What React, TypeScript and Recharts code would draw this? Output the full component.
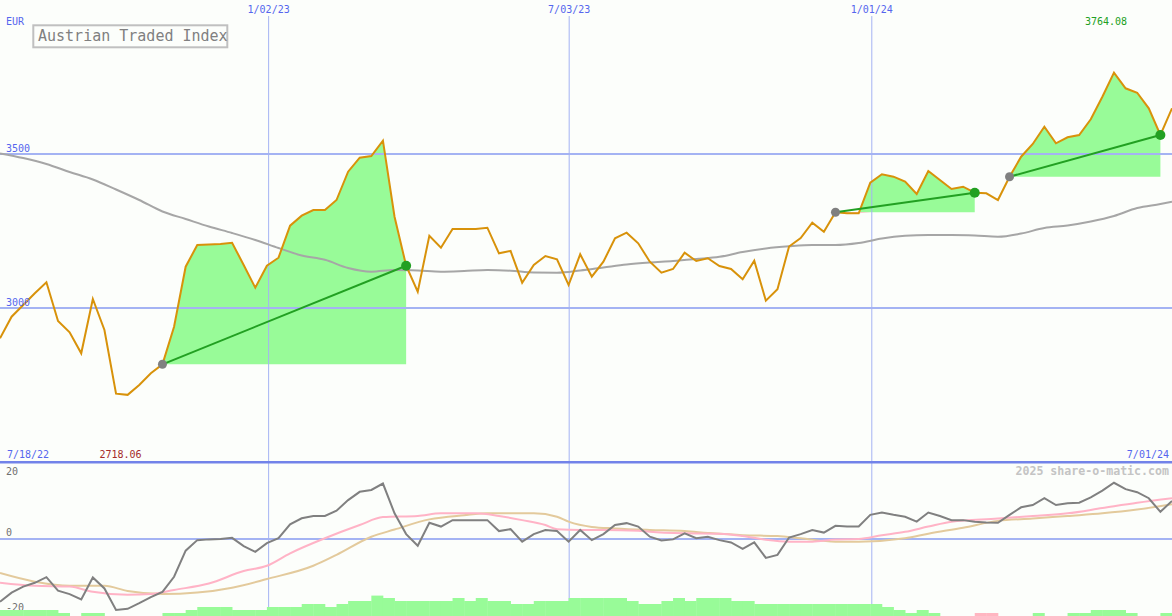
import React from 'react';
import {
  ComposedChart,
  BarChart,
  Bar,
  Cell,
  Line,
  Area,
  XAxis,
  YAxis,
  ReferenceLine,
  ReferenceDot,
} from 'recharts';

// ---------------- data ----------------
// weekly closes, index 0 = 7/18/22 ... index 101 = 7/01/24
const closes = [
  2901.6, 2971.7, 3009.7, 3047.7, 3083.4, 2957.8, 2921.1, 2852.9, 3029.2, 2928.6,
  2722.0, 2718.06, 2750.0, 2788.0, 2817.2, 2939.3, 3134.1, 3204.5, 3206.0, 3207.8,
  3212.0, 3139.6, 3065.9, 3137.3, 3163.3, 3267.2, 3299.7, 3318.2, 3318.2, 3350.6,
  3442.5, 3488.0, 3493.5, 3543.2, 3296.4, 3137.3, 3052.9, 3234.7, 3195.8, 3256.5,
  3256.5, 3256.5, 3260.7, 3177.6, 3185.1, 3082.1, 3139.6, 3168.8, 3158.1, 3074.7,
  3174.4, 3101.6, 3150.3, 3226.3, 3244.5, 3210.1, 3150.3, 3114.6, 3126.6, 3179.5,
  3152.6, 3161.4, 3136.4, 3126.6, 3093.2, 3153.6, 3023.7, 3060.7, 3199.7, 3227.3,
  3276.9, 3247.7, 3310.7, 3307.5, 3307.5, 3406.8, 3434.1, 3426.3, 3410.1, 3370.1,
  3444.8, 3415.6, 3386.4, 3393.8, 3374.3, 3372.4, 3350.6, 3426.3, 3491.2, 3532.5,
  3588.6, 3534.7, 3554.2, 3561.7, 3612.7, 3686.0, 3764.08, 3713.3, 3699.0, 3648.4,
  3561.7, 3648.4,
];

// long moving average [index, value]
const movingAverage: [number, number][] = [
  [0, 3502], [2, 3487], [4, 3467.5], [6, 3441.6], [8, 3417.2], [10, 3384.7],
  [12, 3350.6], [14, 3313.3], [16, 3289], [18, 3264.6], [20, 3243.5], [22, 3220.8],
  [24, 3194.8], [26, 3170.5], [28, 3156.5], [30, 3129.9], [32, 3117.9], [34, 3123.4],
  [36, 3121.8], [38, 3117.9], [40, 3120.1], [42, 3123.4], [44, 3121.1], [46, 3115.3],
  [48, 3114.6], [50, 3121.8], [52, 3131.5], [54, 3141.2], [56, 3147.7], [58, 3152.6],
  [60, 3159.1], [62, 3166.2], [64, 3181.8], [66, 3193.2], [68, 3200.3], [70, 3204.5],
  [72, 3204.5], [74, 3211], [76, 3225.7], [78, 3234.4], [80, 3237], [82, 3237],
  [84, 3235.4], [86, 3231.5], [88, 3241.9], [90, 3259.7], [92, 3267.9], [94, 3280.8],
  [96, 3298.7], [98, 3324.7], [100, 3337.7], [101, 3345.1],
];

// trend segments (start / end index)
const trendStarts = [14, 72, 87];
const trendEnds = [35, 84, 100];

// oscillator (lower panel)
const oscillator = [
  -16.6, -14.2, -12.6, -11.6, -10.1, -13.7, -14.6, -16.0, -10.2, -13.1,
  -18.8, -18.5, -17.0, -15.4, -14.0, -10.0, -3.1, -0.3, -0.1, 0.0,
  0.3, -1.9, -3.4, -1.1, 0.2, 3.9, 5.5, 6.1, 6.1, 7.5,
  10.3, 12.5, 13.0, 14.7, 6.8, 1.3, -1.8, 4.3, 3.3, 5.0,
  5.0, 5.0, 5.0, 2.1, 2.6, -0.7, 1.3, 2.4, 2.1, -0.7,
  2.4, -0.3, 1.3, 3.7, 4.2, 3.3, 0.6, -0.4, -0.1, 1.5,
  0.2, 0.6, -0.3, -0.9, -2.6, -0.9, -5.0, -4.2, 0.4, 1.3,
  2.4, 1.7, 3.5, 3.3, 3.3, 6.4, 7.0, 6.4, 5.9, 4.6,
  7.0, 6.1, 5.0, 5.0, 4.6, 4.4, 4.3, 6.4, 8.4, 9.0,
  10.8, 9.0, 9.5, 9.6, 11.0, 12.8, 14.9, 13.2, 12.4, 10.8,
  7.2, 10.1,
];

const signalFast: [number, number][] = [
  [0, -11.6], [3, -12.4], [6, -12.6], [8, -14.0], [11, -14.8], [13, -14.6],
  [15, -13.5], [18, -11.8], [21, -8.5], [23, -7.1], [25, -3.8], [28, 0.2],
  [31, 3.7], [33, 5.8], [36, 6.1], [38, 6.8], [41, 6.8], [43, 6.1], [45, 5.0],
  [47, 3.7], [48, 2.6], [50, 2.4], [52, 2.4], [55, 2.2], [56, 1.9], [59, 1.5],
  [62, 1.4], [64, 0.8], [66, -0.2], [68, -0.7], [70, -0.7], [72, -0.1], [74, 0],
  [76, 1.0], [78, 1.9], [80, 3.3], [82, 4.6], [86, 5.4], [89, 6.1], [92, 6.8],
  [95, 8.2], [98, 9.6], [101, 10.8],
];

const signalSlow: [number, number][] = [
  [0, -9.0], [3, -11.3], [6, -12.4], [9, -12.4], [11, -13.8], [14, -14.6],
  [17, -14.2], [20, -12.9], [23, -10.6], [27, -7.1], [29, -4.2], [32, 0.6],
  [34, 2.5], [37, 5.2], [40, 6.3], [42, 6.8], [46, 6.8], [48, 5.9], [49, 4.6],
  [51, 3.2], [53, 2.8], [56, 2.4], [59, 2.1], [61, 1.6], [64, 1.0], [67, 0.8],
  [69, 0.2], [72, -0.7], [74, -0.7], [78, 0.2], [80, 1.4], [83, 3.0], [86, 4.8],
  [89, 5.4], [92, 6.1], [95, 6.8], [98, 7.8], [101, 9.2],
];

// histogram per week interval (negative = pink)
const histogram = [
  2, 2, 2, 2, 2, 1, 0, 1, 1, 0,
  0, 0, 0, 0, 1, 1, 2, 3, 3, 3,
  2, 2, 2, 3, 3, 3, 4, 4, 3, 4,
  5, 5, 6.8, 6, 5, 5, 5, 5, 5, 6,
  5, 6, 5, 5, 4, 4, 5, 5, 5, 6,
  6, 6, 6, 6, 5, 4, 4, 5, 6, 5,
  6, 6, 6, 5, 5, 4, 4, 4, 4, 4,
  4, 4, 4, 4, 4, 4, 3, 2, 1, 2,
  1, 0, 0, 0, -1, -1, 0, 0, 0, 1,
  0, 0, 1, 1, 2, 2, 2, 1, 0, 0,
  1,
];

const dateTicks = [23.15, 49.05, 75.13];
const dateLabels = ['1/02/23', '7/03/23', '1/01/24'];
const priceTicks = [3000, 3500];
const oscTicks = [20, 0, -20];
const firstDate = '7/18/22';
const lastDate = '7/01/24';
const currency = 'EUR';
const title = 'Austrian Traded Index';
const credit = '2025 share-o-matic.com';

// ---------------- style ----------------
const WIDTH = 1172;
const HEIGHT = 616;
const UPPER_H = 462;
const LOWER_H = 154;
const HIST_H = 30;
const PRICE_DOMAIN: [number, number] = [2500, 4000];
const GRID_TOP = 3948;
const OSC_DOMAIN: [number, number] = [-20.4, 20.4];
const FONT = '"DejaVu Sans Mono", "Liberation Mono", monospace';

const BG = '#fcfefb';
const GRID = '#a4b3f3';
const BORDER = '#7283e9';
const BLUE_TEXT = '#5566ee';
const PRICE = '#d8920a';
const MA = '#a6a6a6';
const FILL_UP = '#98fb98';
const FILL_DOWN = '#ffb6c1';
const TREND = '#22a022';
const START_DOT = '#808080';
const OSC = '#808080';
const PINK = '#ffb3c6';
const TAN = '#e3ca9c';

// ---------------- derived tables ----------------
const maMap = new Map(movingAverage);
const upperData = closes.map((p, i) => {
  const row: Record<string, any> = { i, price: p, ma: maMap.has(i) ? maMap.get(i) : null };
  trendStarts.forEach((s, k) => {
    const e = trendEnds[k];
    const base = closes[s];
    const inside = i >= s && i <= e;
    row[`up${k}`] = inside ? [base, Math.max(p, base)] : null;
    row[`dn${k}`] = inside ? [Math.min(p, base), base] : null;
    row[`tr${k}`] = i === s || i === e ? p : null;
  });
  return row;
});

const fastMap = new Map(signalFast);
const slowMap = new Map(signalSlow);
const lowerData = oscillator.map((v, i) => ({
  i,
  osc: v,
  fast: fastMap.has(i) ? fastMap.get(i) : null,
  slow: slowMap.has(i) ? slowMap.get(i) : null,
}));

const histData = histogram.map((v, k) => ({ k, h: Math.abs(v), v }));

const maxClose = Math.max(...closes);
const minClose = Math.min(...closes);

const DateTick = (props: any) => {
  const { x, index } = props;
  return (
    <text x={x} y={13} textAnchor="middle" fill={BLUE_TEXT} fontSize={10} fontFamily={FONT}>
      {dateLabels[index]}
    </text>
  );
};

const PriceTick = (props: any) => {
  const { y, payload } = props;
  return (
    <text x={6} y={y - 2.5} fill={BLUE_TEXT} fontSize={10} fontFamily={FONT}>
      {payload.value}
    </text>
  );
};

const OscTick = (props: any) => {
  const { y, payload } = props;
  return (
    <text x={6} y={Math.max(y - 3, 13)} fill="#707070" fontSize={10} fontFamily={FONT}>
      {payload.value}
    </text>
  );
};

const zeroMargin = { top: 0, right: 0, bottom: 0, left: 0 };

export default function App() {
  return (
    <div
      style={{
        position: 'absolute',
        left: 0,
        top: 0,
        width: WIDTH,
        height: HEIGHT,
        background: BG,
        overflow: 'hidden',
      }}
    >
      <div style={{ position: 'absolute', left: 0, top: 0 }}>
        <ComposedChart width={WIDTH} height={UPPER_H} data={upperData} margin={zeroMargin} accessibilityLayer={false}>
          <XAxis
            dataKey="i"
            type="number"
            domain={[0, closes.length - 1]}
            orientation="top"
            mirror
            ticks={dateTicks}
            interval={0}
            axisLine={false}
            tickLine={false}
            tick={DateTick}
          />
          <YAxis
            type="number"
            domain={PRICE_DOMAIN}
            allowDataOverflow
            ticks={priceTicks}
            interval={0}
            mirror
            axisLine={false}
            tickLine={false}
            tick={PriceTick}
          />
          {priceTicks.map((t) => (
            <ReferenceLine key={`h${t}`} y={t} stroke={GRID} strokeWidth={2} />
          ))}
          {dateTicks.map((x) => (
            <ReferenceLine
              key={`v${x}`}
              segment={[
                { x, y: GRID_TOP },
                { x, y: PRICE_DOMAIN[0] },
              ]}
              stroke={GRID}
              strokeWidth={1}
            />
          ))}
          {trendStarts.map((_, k) => (
            <Area
              key={`up${k}`}
              dataKey={`up${k}`}
              type="linear"
              fill={FILL_UP}
              fillOpacity={1}
              stroke="none"
              isAnimationActive={false}
              dot={false}
              activeDot={false}
            />
          ))}
          {trendStarts.map((_, k) => (
            <Area
              key={`dn${k}`}
              dataKey={`dn${k}`}
              type="linear"
              fill={FILL_DOWN}
              fillOpacity={1}
              stroke="none"
              isAnimationActive={false}
              dot={false}
              activeDot={false}
            />
          ))}
          <Line
            dataKey="ma"
            type="monotone"
            stroke={MA}
            strokeWidth={2}
            dot={false}
            activeDot={false}
            connectNulls
            isAnimationActive={false}
          />
          <Line
            dataKey="price"
            type="linear"
            stroke={PRICE}
            strokeWidth={2}
            dot={false}
            activeDot={false}
            isAnimationActive={false}
          />
          {trendStarts.map((_, k) => (
            <Line
              key={`tr${k}`}
              dataKey={`tr${k}`}
              type="linear"
              stroke={TREND}
              strokeWidth={2}
              dot={false}
              activeDot={false}
              connectNulls
              isAnimationActive={false}
            />
          ))}
          {trendStarts.map((s) => (
            <ReferenceDot key={`s${s}`} x={s} y={closes[s]} r={4.5} fill={START_DOT} stroke="none" />
          ))}
          {trendEnds.map((e) => (
            <ReferenceDot key={`e${e}`} x={e} y={closes[e]} r={5} fill={TREND} stroke="none" />
          ))}
        </ComposedChart>
      </div>

      <div style={{ position: 'absolute', left: 0, top: UPPER_H }}>
        <ComposedChart width={WIDTH} height={LOWER_H} data={lowerData} margin={zeroMargin} accessibilityLayer={false}>
          <XAxis dataKey="i" type="number" domain={[0, oscillator.length - 1]} hide />
          <YAxis
            type="number"
            domain={OSC_DOMAIN}
            allowDataOverflow
            ticks={oscTicks}
            interval={0}
            mirror
            axisLine={false}
            tickLine={false}
            tick={OscTick}
          />
          <ReferenceLine y={0} stroke={GRID} strokeWidth={2} />
          {dateTicks.map((x) => (
            <ReferenceLine key={`lv${x}`} x={x} stroke={GRID} strokeWidth={1} />
          ))}
          <Line dataKey="slow" type="monotone" stroke={TAN} strokeWidth={2} dot={false} activeDot={false} connectNulls isAnimationActive={false} />
          <Line dataKey="fast" type="monotone" stroke={PINK} strokeWidth={2} dot={false} activeDot={false} connectNulls isAnimationActive={false} />
          <Line dataKey="osc" type="linear" stroke={OSC} strokeWidth={2} dot={false} activeDot={false} isAnimationActive={false} />
        </ComposedChart>
      </div>

      <div style={{ position: 'absolute', left: 0, top: HEIGHT - HIST_H }}>
        <BarChart width={WIDTH} height={HIST_H} data={histData} margin={zeroMargin} barCategoryGap={0} barGap={0} accessibilityLayer={false}>
          <XAxis dataKey="k" type="category" hide />
          <YAxis type="number" domain={[0, 10]} hide />
          <Bar dataKey="h" isAnimationActive={false}>
            {histData.map((d) => (
              <Cell key={d.k} fill={d.v < 0 ? FILL_DOWN : FILL_UP} />
            ))}
          </Bar>
        </BarChart>
      </div>

      <svg
        width={WIDTH}
        height={HEIGHT}
        style={{ position: 'absolute', left: 0, top: 0, pointerEvents: 'none' }}
      >
        <line x1={0} x2={WIDTH} y1={462.2} y2={462.2} stroke={BORDER} strokeWidth={2.6} />
        <text x={6} y={25} fill={BLUE_TEXT} fontSize={10} fontFamily={FONT}>
          {currency}
        </text>
        <rect x={33.3} y={25.3} width={194} height={22} fill="none" stroke="#c0c0c0" strokeWidth={2} />
        <text x={38} y={41} fill="#808080" fontSize={15} fontFamily={FONT}>
          {title}
        </text>
        <text x={1085} y={25} fill={TREND} fontSize={10} fontFamily={FONT}>
          {maxClose.toFixed(2)}
        </text>
        <text x={99.5} y={458} fill="#a52a2a" fontSize={10} fontFamily={FONT}>
          {minClose.toFixed(2)}
        </text>
        <text x={7} y={458} fill={BLUE_TEXT} fontSize={10} fontFamily={FONT}>
          {firstDate}
        </text>
        <text x={1169} y={458} textAnchor="end" fill={BLUE_TEXT} fontSize={10} fontFamily={FONT}>
          {lastDate}
        </text>
        <text
          x={1169}
          y={475}
          textAnchor="end"
          fill="#c4c4c4"
          fontSize={11.6}
          fontWeight="bold"
          fontFamily={FONT}
        >
          {credit}
        </text>
      </svg>
    </div>
  );
}
